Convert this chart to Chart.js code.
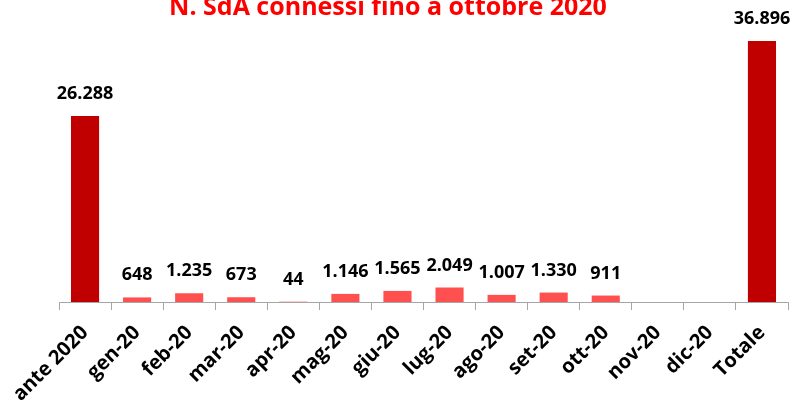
<!DOCTYPE html>
<html>
<head>
<meta charset="utf-8">
<script src="https://cdn.jsdelivr.net/npm/chart.js@4.4.1/dist/chart.umd.min.js"></script>
<style>
    html, body { margin: 0; padding: 0; background: #fff; }
    #wrap { position: relative; width: 794px; height: 401px; overflow: hidden; }
    #title {
        position: absolute; left: -9px; top: -12px; width: 794px;
        text-align: center; color: #ff0000;
        font: bold 25px "Open Sans", sans-serif; white-space: nowrap;
    }
    canvas { position: absolute; left: 0; top: 0; }
</style>
</head>
<body>
<div id="wrap">
    <canvas id="chart" width="794" height="401"></canvas>
    <div id="title">N. SdA connessi fino a ottobre 2020</div>
</div>
<script>
// dati
const categories = ['ante 2020', 'gen-20', 'feb-20', 'mar-20', 'apr-20', 'mag-20', 'giu-20',
    'lug-20', 'ago-20', 'set-20', 'ott-20', 'nov-20', 'dic-20', 'Totale'];
const sdaConnessi = [26288, 648, 1235, 673, 44, 1146, 1565, 2049, 1007, 1330, 911, null, null, 36896];

const DARK_RED = '#c00000';
const LIGHT_RED = '#ff5050';
const LABEL_FONT = 'bold 18px "Open Sans", sans-serif';

// separatore migliaia all'italiana
function fmt(v) {
    return String(v).replace(/\B(?=(\d{3})+(?!\d))/g, '.');
}

// =========================================================
// VALUE LABELS (niente plugin datalabels, li disegno a mano)
// =========================================================
const valueLabels = {
    id: 'valueLabels',
    afterDatasetsDraw(chart) {
        const ctx = chart.ctx;
        const meta = chart.getDatasetMeta(0);
        ctx.save();
        ctx.font = LABEL_FONT;
        ctx.fillStyle = '#000';
        ctx.textAlign = 'center';
        ctx.textBaseline = 'alphabetic';
        meta.data.forEach(function (bar, i) {
            const v = sdaConnessi[i];
            if (v === null) return;
            ctx.fillText(fmt(v), bar.x, bar.y - 17);
        });
        ctx.restore();
    }
};

new Chart(document.getElementById('chart'), {
    type: 'bar',
    data: {
        labels: categories,
        datasets: [{
            data: sdaConnessi,
            backgroundColor: function (c) {
                return (c.dataIndex === 0 || c.dataIndex === categories.length - 1) ? DARK_RED : LIGHT_RED;
            },
            barPercentage: 0.54,
            categoryPercentage: 1
        }]
    },
    options: {
        responsive: false,
        animation: false,
        layout: { padding: { top: 19, right: 6, bottom: 0, left: 59 } },
        plugins: { legend: { display: false }, tooltip: { enabled: false } },
        scales: {
            x: {
                grid: { offset: true, drawOnChartArea: false, tickLength: 8, color: '#a6a6a6' },
                border: { color: '#a6a6a6' },
                ticks: {
                    minRotation: 45, maxRotation: 45,
                    padding: 11,
                    color: '#000',
                    font: { family: '"Open Sans", sans-serif', size: 20, weight: 'bold' }
                },
                // area del grafico fissa come nell'originale
                afterFit: function (scale) {
                    scale.height = 99;
                    scale.paddingLeft = 0;
                    scale.paddingRight = 0;
                }
            },
            y: { display: false, min: 0, max: 40000 }
        }
    },
    plugins: [valueLabels]
});
</script>
</body>
</html>
